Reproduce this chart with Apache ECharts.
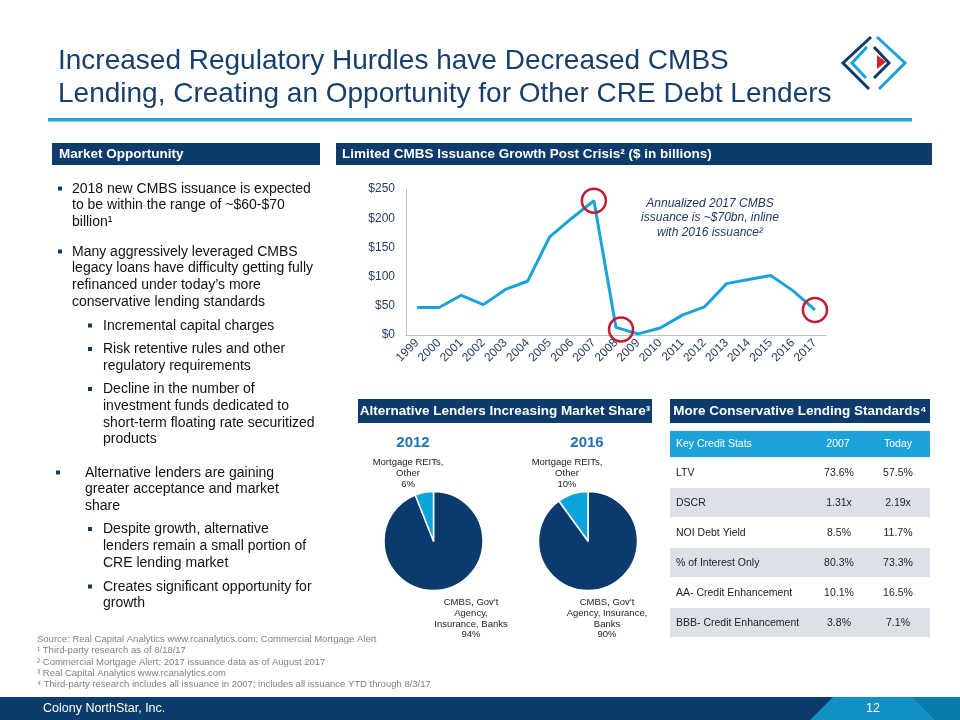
<!DOCTYPE html>
<html>
<head>
<meta charset="utf-8">
<script src="https://cdn.jsdelivr.net/npm/echarts@6/dist/echarts.min.js"></script>
<style>
html,body{margin:0;padding:0;background:#fff;}
#c{width:960px;height:720px;}
</style>
</head>
<body>
<div id="c"></div>
<script>
// ---------- DATA ----------
var years = ['1999','2000','2001','2002','2003','2004','2005','2006','2007','2008','2009','2010','2011','2012','2013','2014','2015','2016','2017'];
var issuance = [47, 47, 68, 52, 78, 92, 168, 200, 230, 13, 2, 12, 34, 48, 88, 95, 102, 76, 43];
var circledYears = ['2007', '2008', '2017'];
var yTicks = [0, 50, 100, 150, 200, 250];

var pieYears = ['2012', '2016'];
var pieBankNames = ["CMBS, Gov't\nAgency,\nInsurance, Banks", "CMBS, Gov't\nAgency, Insurance,\nBanks"];
var pieBankShare = [94, 90];
var pieOtherName = 'Mortgage REITs,\nOther';
var pieOtherShare = [6, 10];

var tableHeader = ['Key Credit Stats', '2007', 'Today'];
var statLabels = ['LTV', 'DSCR', 'NOI Debt Yield', '% of Interest Only', 'AA- Credit Enhancement', 'BBB- Credit Enhancement'];
var stats2007 = ['73.6%', '1.31x', '8.5%', '80.3%', '10.1%', '3.8%'];
var statsToday = ['57.5%', '2.19x', '11.7%', '73.3%', '16.5%', '7.1%'];

// ---------- STYLE ----------
var FF = "'Liberation Sans', Arial, sans-serif";
var NAVY = '#0D3B6C';
var LIGHT = '#1AA3DB';
var RED = '#BE1E2D';

var g = [];
function txt(x, y, text, size, color, opts) {
  opts = opts || {};
  g.push({
    type: 'text', x: x, y: y, z: 10,
    style: {
      text: text,
      font: (opts.italic ? 'italic ' : '') + (opts.bold ? 'bold ' : '') + size + 'px ' + FF,
      fill: color,
      align: opts.align || 'left',
      verticalAlign: opts.va || 'middle',
      lineHeight: opts.lh || undefined
    }
  });
}
function rect(x, y, w, h, color, z) {
  g.push({ type: 'rect', z: z || 1, shape: { x: x, y: y, width: w, height: h }, style: { fill: color } });
}

// Title
txt(58, 61, 'Increased Regulatory Hurdles have Decreased CMBS', 28, '#173F6D');
txt(58, 94, 'Lending, Creating an Opportunity for Other CRE Debt Lenders', 28, '#173F6D');
rect(48, 118, 864, 3.5, '#2AA5DC');

// Logo
g.push({ type: 'polyline', z: 5, shape: { points: [[871,37],[843,63],[869,89]] }, style: { stroke: NAVY, lineWidth: 3, fill: null } });
g.push({ type: 'polyline', z: 5, shape: { points: [[874,47],[889,63],[874,78]] }, style: { stroke: NAVY, lineWidth: 3, fill: null } });
g.push({ type: 'polyline', z: 5, shape: { points: [[877,37],[905,63],[879,89]] }, style: { stroke: LIGHT, lineWidth: 3, fill: null } });
g.push({ type: 'polyline', z: 5, shape: { points: [[867,47],[852,63],[866,78]] }, style: { stroke: LIGHT, lineWidth: 3, fill: null } });
g.push({ type: 'polygon', z: 5, shape: { points: [[877,55],[886,62],[877,69]] }, style: { fill: '#D9232E' } });

// Section headers
rect(52, 143, 268, 22, NAVY);
txt(59, 154, 'Market Opportunity', 13.5, '#fff', { bold: true });
rect(336, 143, 596, 22, NAVY);
txt(342, 154, 'Limited CMBS Issuance Growth Post Crisis\u00b2 ($ in billions)', 13.5, '#fff', { bold: true });
rect(358, 399, 294, 24, NAVY);
txt(505, 411, 'Alternative Lenders Increasing Market Share\u00b3', 13.5, '#fff', { bold: true, align: 'center' });
rect(670, 399, 260, 24, NAVY);
txt(800, 411, 'More Conservative Lending Standards\u2074', 13.5, '#fff', { bold: true, align: 'center' });

// Left bullet text
var LH = 16.6;
var TC = '#111';
function para(bx, tx, y1, text) {
  rect(bx, y1 - 2.5, 4, 4, NAVY, 5);
  txt(tx, y1 - LH / 2, text, 14, TC, { va: 'top', lh: LH });
}
para(58, 72, 189, '2018 new CMBS issuance is expected\nto be within the range of ~$60-$70\nbillion\u00b9');
para(58, 72, 252, 'Many aggressively leveraged CMBS\nlegacy loans have difficulty getting fully\nrefinanced under today\u2019s more\nconservative lending standards');
para(88, 103, 326, 'Incremental capital charges');
para(88, 103, 349.5, 'Risk retentive rules and other\nregulatory requirements');
para(88, 103, 389.5, 'Decline in the number of\ninvestment funds dedicated to\nshort-term floating rate securitized\nproducts');
para(56, 85, 473, 'Alternative lenders are gaining\ngreater acceptance and market\nshare');
para(88, 103, 529.5, 'Despite growth, alternative\nlenders remain a small portion of\nCRE lending market');
para(88, 103, 587, 'Creates significant opportunity for\ngrowth');

// Annotation on line chart
txt(710, 196, 'Annualized 2017 CMBS\nissuance is ~$70bn, inline\nwith 2016 issuance\u00b2', 12, '#1F3864', { italic: true, align: 'center', va: 'top', lh: 14.5 });

// Pie labels
var pieCx = [433.5, 588];
var otherCx = [408, 567];
var bankCx = [471, 607];
var yearCx = [413, 587];
for (var i = 0; i < pieYears.length; i++) {
  txt(yearCx[i], 443, pieYears[i], 15, '#1F72B8', { bold: true, align: 'center' });
  txt(otherCx[i], 457, pieOtherName + '\n' + pieOtherShare[i] + '%', 9.5, '#222', { align: 'center', va: 'top', lh: 11 });
  txt(bankCx[i], 597, pieBankNames[i] + '\n' + pieBankShare[i] + '%', 9.5, '#222', { align: 'center', va: 'top', lh: 10.8 });
}

// Table
var TX = 670, TW = 260, TY = 431, HH = 26, RH = 30;
rect(TX, TY, TW, HH, '#1CA2D9');
txt(TX + 6, TY + HH / 2, tableHeader[0], 10.5, '#fff');
txt(838, TY + HH / 2, tableHeader[1], 10.5, '#fff', { align: 'center' });
txt(898, TY + HH / 2, tableHeader[2], 10.5, '#fff', { align: 'center' });
for (var r = 0; r < statLabels.length; r++) {
  var ry = TY + HH + 1 + r * RH;
  rect(TX, ry, TW, RH - 1, r % 2 === 1 ? '#DCE0E9' : '#fff');
  txt(TX + 6, ry + RH / 2, statLabels[r], 10.5, '#222');
  txt(839, ry + RH / 2, stats2007[r], 10.5, '#222', { align: 'center' });
  txt(898, ry + RH / 2, statsToday[r], 10.5, '#222', { align: 'center' });
}

// Footnotes
var notes = [
  'Source: Real Capital Analytics www.rcanalytics.com; Commercial Mortgage Alert',
  '\u00b9 Third-party research as of 8/18/17',
  '\u00b2 Commercial Mortgage Alert; 2017 issuance data as of August 2017',
  '\u00b3 Real Capital Analytics www.rcanalytics.com',
  '\u2074 Third-party research includes all issuance in 2007; includes all issuance YTD through 8/3/17'
];
for (var n = 0; n < notes.length; n++) txt(37, 639.5 + n * 11.2, notes[n], 9.5, '#7F7F7F');

// Footer
rect(0, 697, 960, 23, '#0C3C6B');
g.push({ type: 'polygon', z: 2, shape: { points: [[833,697],[913,697],[936,720],[810,720]] }, style: { fill: '#1190C4' } });
g.push({ type: 'polygon', z: 2, shape: { points: [[913,697],[960,697],[960,720],[936,720]] }, style: { fill: '#0A7CAB' } });
txt(43, 709, 'Colony NorthStar, Inc.', 12.5, '#fff');
txt(873, 709, '12', 12.5, '#fff', { align: 'center' });

// ---------- CHART ----------
var chart = echarts.init(document.getElementById('c'), null, { renderer: 'canvas' });
var markData = circledYears.map(function (yr) {
  var idx = years.indexOf(yr);
  var d = { coord: [yr, issuance[idx]] };
  if (yr === '2008') d.symbolOffset = [5, 2];
  return d;
});
chart.setOption({
  animation: false,
  backgroundColor: '#fff',
  graphic: g,
  grid: { left: 406, right: 134, top: 189, bottom: 385, containLabel: false },
  xAxis: {
    type: 'category', data: years, boundaryGap: true,
    axisLine: { lineStyle: { color: '#BFBFBF', width: 1 } },
    axisTick: { show: false },
    axisLabel: { rotate: 45, interval: 0, margin: 6, fontSize: 12, color: '#1F3A5F', fontFamily: FF }
  },
  yAxis: {
    type: 'value', min: yTicks[0], max: yTicks[yTicks.length - 1], interval: 50,
    axisLine: { show: true, lineStyle: { color: '#BFBFBF', width: 1 } },
    axisTick: { show: false },
    splitLine: { show: false },
    axisLabel: { margin: 11, fontSize: 12, color: '#1F3A5F', fontFamily: FF, formatter: function (v) { return '$' + v; } }
  },
  series: [
    {
      type: 'line', data: issuance, symbol: 'none', smooth: false,
      lineStyle: { color: LIGHT, width: 3 },
      markPoint: {
        symbol: 'circle', symbolSize: 24, silent: true,
        itemStyle: { color: 'rgba(0,0,0,0)', borderColor: RED, borderWidth: 2.5 },
        label: { show: false },
        data: markData
      }
    },
    {
      type: 'pie', center: [pieCx[0], 541], radius: 49.5, startAngle: 90, clockwise: true,
      label: { show: false }, labelLine: { show: false }, silent: true,
      itemStyle: { borderColor: '#fff', borderWidth: 1.5 },
      data: [
        { name: pieBankNames[0], value: pieBankShare[0], itemStyle: { color: '#0B3A6D' } },
        { name: pieOtherName, value: pieOtherShare[0], itemStyle: { color: '#0AA3DA' } }
      ]
    },
    {
      type: 'pie', center: [pieCx[1], 541], radius: 49.5, startAngle: 90, clockwise: true,
      label: { show: false }, labelLine: { show: false }, silent: true,
      itemStyle: { borderColor: '#fff', borderWidth: 1.5 },
      data: [
        { name: pieBankNames[1], value: pieBankShare[1], itemStyle: { color: '#0B3A6D' } },
        { name: pieOtherName, value: pieOtherShare[1], itemStyle: { color: '#0AA3DA' } }
      ]
    }
  ]
});
</script>
</body>
</html>
